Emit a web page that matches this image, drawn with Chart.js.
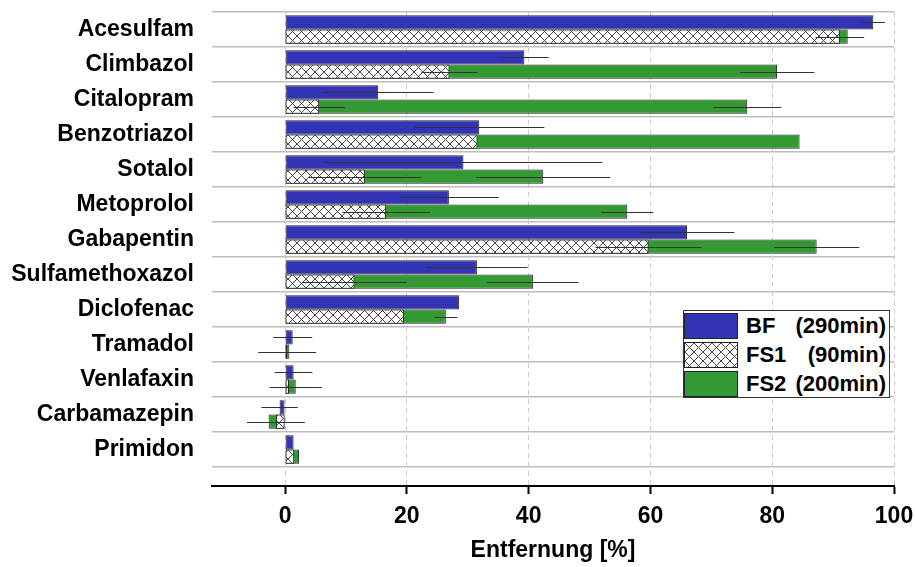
<!DOCTYPE html>
<html lang="de">
<head>
    <meta charset="UTF-8">
    <title>Entfernung</title>
    <script src="https://cdn.jsdelivr.net/npm/chart.js"></script>
    <style>
        body { margin: 0; background: #fff; }
        #wrap { position: relative; width: 915px; height: 567px; }

        /* legend box inside the plot, bottom right */
        #legend {
            position: absolute;
            left: 683px; top: 310px;
            width: 205px; height: 86px;
            border: 1px solid #333;
            background: #fff;
            font: bold 22px "Liberation Sans", Arial, sans-serif;
            color: #000;
        }
        .row { display: flex; align-items: center; height: 29px; }
        .sw { width: 52px; height: 24px; border: 1px solid #222; margin: 0 8px 0 0; flex: none; }
        .txt { flex: 1; display: flex; justify-content: space-between; padding-right: 3px; }
    </style>
</head>
<body>
<div id="wrap">
    <canvas id="chart" width="915" height="567"></canvas>
    <div id="legend"></div>
</div>

<script>
// categories, top to bottom
const categories = ['Acesulfam', 'Climbazol', 'Citalopram', 'Benzotriazol', 'Sotalol', 'Metoprolol',
    'Gabapentin', 'Sulfamethoxazol', 'Diclofenac', 'Tramadol', 'Venlafaxin', 'Carbamazepin', 'Primidon'];

// removal in %, with standard deviation
const bf     = [96.6, 39.3, 15.3, 31.9, 29.3, 26.9, 66.0, 31.5, 28.6, 1.25, 1.4, -0.9, 1.4];
const bfErr  = [1.9, 4.0, 9.1, 10.7, 22.8, 8.2, 7.8, 8.3, 0, 3.2, 3.1, 3.0, 0];
const fs1    = [91.1, 27.0, 5.6, 31.6, 13.1, 16.6, 59.7, 11.4, 19.5, 0.35, 0.65, -1.5, 1.5];
const fs1Err = [4.0, 4.6, 4.2, 0, 9.2, 7.2, 8.7, 8.6, 0, 4.75, 0, 4.75, 0];
const fs2    = [92.4, 80.8, 75.9, 84.5, 42.4, 56.2, 87.3, 40.7, 26.4, 0.7, 1.75, -2.7, 2.3];
const fs2Err = [0, 6.1, 5.6, 0, 11.0, 4.3, 7.0, 7.5, 1.9, 0, 4.3, 0, 0];

const seriesNames = ['BF', 'FS1', 'FS2'];
const seriesTimes = ['(290min)', '(90min)', '(200min)'];
const xTicks = [0, 20, 40, 60, 80, 100];

const FONT = '"Liberation Sans", Arial, sans-serif';
const BLUE = '#3333b5';
const GREEN = '#339933';

// cross hatch pattern for FS1
const hatchCanvas = document.createElement('canvas');
hatchCanvas.width = hatchCanvas.height = 9;
(function () {
    const g = hatchCanvas.getContext('2d');
    g.fillStyle = '#fff';
    g.fillRect(0, 0, 9, 9);
    g.strokeStyle = '#333';
    g.lineWidth = 0.9;
    g.beginPath();
    g.moveTo(-1, -1); g.lineTo(10, 10);
    g.moveTo(10, -1); g.lineTo(-1, 10);
    g.stroke();
})();
const hatch = hatchCanvas.getContext('2d').createPattern(hatchCanvas, 'repeat');

function points(vals) {
    return vals.map((v, i) => ({ x: v, y: i }));
}

const errors = [bfErr, fs1Err, fs2Err];

// thin horizontal error lines, value +/- sd
const errorBars = {
    id: 'errorBars',
    afterDatasetsDraw(chart) {
        const ctx = chart.ctx;
        const xs = chart.scales.x;
        const area = chart.chartArea;
        ctx.save();
        ctx.beginPath();
        ctx.rect(area.left, area.top, area.right - area.left, area.bottom - area.top);
        ctx.clip();
        ctx.strokeStyle = '#333';
        ctx.lineWidth = 1;
        chart.data.datasets.forEach((ds, d) => {
            const meta = chart.getDatasetMeta(d);
            meta.data.forEach((bar, i) => {
                const e = errors[d][i];
                if (!e) return;
                const v = ds.data[i].x;
                const y = Math.round(bar.y) + 0.5;
                ctx.beginPath();
                ctx.moveTo(xs.getPixelForValue(v - e), y);
                ctx.lineTo(xs.getPixelForValue(v + e), y);
                ctx.stroke();
            });
        });
        ctx.restore();
    }
};

new Chart(document.getElementById('chart'), {
    type: 'bar',
    data: {
        datasets: [
            { label: 'BF', data: points(bf), stack: 'top', backgroundColor: BLUE },
            { label: 'FS1', data: points(fs1), stack: 'bottom', backgroundColor: hatch },
            { label: 'FS2', data: points(fs2), stack: 'bottom', backgroundColor: GREEN }
        ]
    },
    options: {
        indexAxis: 'y',
        responsive: false,
        animation: false,
        events: [],
        layout: { padding: { left: 0, top: 12, right: 21, bottom: 0 } },
        datasets: {
            bar: {
                categoryPercentage: 0.815,
                barPercentage: 1,
                borderWidth: 1,
                borderColor: '#222',
                borderSkipped: false
            }
        },
        plugins: {
            legend: { display: false },
            tooltip: { enabled: false }
        },
        scales: {
            y: {
                type: 'linear',
                reverse: true,
                min: -0.5,
                max: 13.04,
                offset: false,
                stacked: true,
                afterBuildTicks(s) { s.ticks = categories.map((_, i) => ({ value: i })); },
                afterFit(s) { s.width = 212; s.paddingTop = 0; s.paddingBottom = 0; },
                ticks: {
                    autoSkip: false,
                    padding: 18,
                    color: '#000',
                    font: { family: FONT, size: 23, weight: 'bold' },
                    callback: (v) => categories[v]
                },
                grid: { offset: true, drawTicks: false, color: '#bdbdbd', lineWidth: 1.5 },
                border: { display: false }
            },
            x: {
                type: 'linear',
                min: -12,
                max: 100,
                stacked: false,
                afterBuildTicks(s) { s.ticks = xTicks.map(v => ({ value: v })); },
                afterFit(s) { s.height = 81; s.paddingLeft = 0; s.paddingRight = 0; },
                ticks: {
                    padding: 9,
                    color: '#000',
                    font: { family: FONT, size: 23, weight: 'bold' }
                },
                grid: {
                    color: '#cccccc',
                    lineWidth: 1,
                    drawTicks: true,
                    tickLength: 8,
                    tickColor: '#000',
                    tickWidth: 2
                },
                border: { display: true, color: '#000', width: 2, dash: [5, 4] },
                title: {
                    display: true,
                    text: 'Entfernung [%]',
                    color: '#000',
                    padding: { top: 0, bottom: 3 },
                    font: { family: FONT, size: 23, weight: 'bold' }
                }
            }
        }
    },
    plugins: [errorBars]
});

// legend
const legend = document.getElementById('legend');
const fills = [BLUE, 'url(' + hatchCanvas.toDataURL() + ')', GREEN];
seriesNames.forEach((name, i) => {
    const row = document.createElement('div');
    row.className = 'row';
    const sw = document.createElement('div');
    sw.className = 'sw';
    sw.style.background = fills[i];
    const txt = document.createElement('div');
    txt.className = 'txt';
    const a = document.createElement('span');
    a.textContent = name;
    const b = document.createElement('span');
    b.textContent = seriesTimes[i];
    txt.appendChild(a);
    txt.appendChild(b);
    row.appendChild(sw);
    row.appendChild(txt);
    legend.appendChild(row);
});
</script>
</body>
</html>
